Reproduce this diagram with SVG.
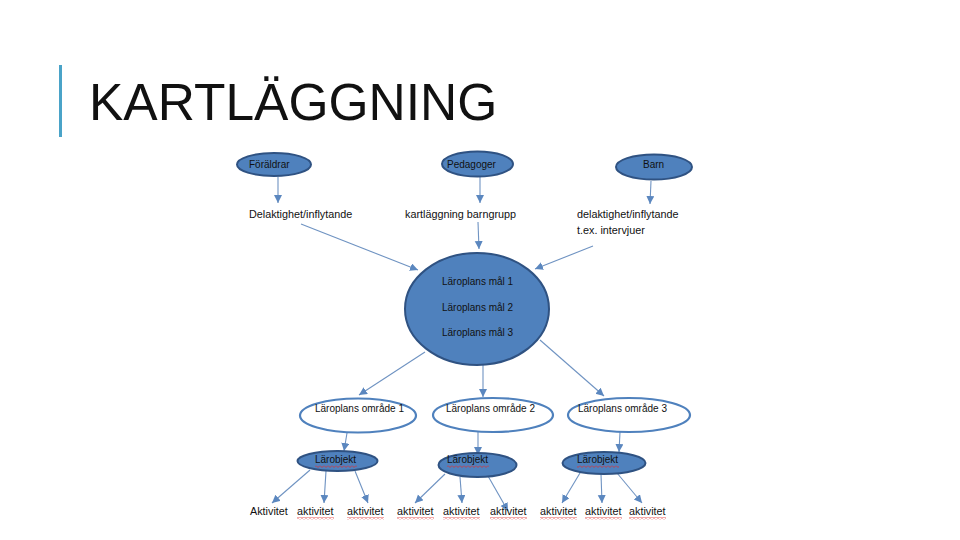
<svg xmlns="http://www.w3.org/2000/svg" width="960" height="540" viewBox="0 0 960 540">
<defs>
<style>
.blue{fill:#4f81bd;stroke:#2f5282;stroke-width:2}
.white{fill:#fff;stroke:#4f81bd;stroke-width:2.2}
.t{font-family:"Liberation Sans",Arial,sans-serif;font-size:10.8px;fill:#111}
.ti{font-family:"Liberation Sans",Arial,sans-serif;font-size:10px;fill:#111}
.c{stroke:#6f93c2;stroke-width:1.1;fill:none;marker-end:url(#ah)}
</style>
<marker id="ah" markerUnits="userSpaceOnUse" markerWidth="9" markerHeight="9" refX="8" refY="4" orient="auto">
<path d="M0,0 L8,4 L0,8 z" fill="#5b87bf"/>
</marker>
<pattern id="wavy" width="4" height="3" patternUnits="userSpaceOnUse">
<polyline points="0,0.5 2,2.5 4,0.5" fill="none" stroke="#e03030" stroke-width="0.8"/>
</pattern>
</defs>
<rect width="960" height="540" fill="#fff"/>
<rect x="59" y="65" width="3" height="72" fill="#4aa3c8"/>
<text x="89" y="120" font-family="'Liberation Sans',Arial,sans-serif" font-size="51.5" fill="#111">KARTLÄGGNING</text>

<g id="connectors">
<line class="c" x1="278" y1="177" x2="278" y2="203"/>
<line class="c" x1="480" y1="177" x2="480" y2="203"/>
<line class="c" x1="651" y1="181" x2="650" y2="204"/>
<line class="c" x1="301" y1="224" x2="418" y2="270"/>
<line class="c" x1="478" y1="222" x2="479" y2="249"/>
<line class="c" x1="593" y1="246" x2="535" y2="269"/>
<line class="c" x1="425" y1="352" x2="359" y2="395"/>
<line class="c" x1="483" y1="365" x2="483" y2="397"/>
<line class="c" x1="540" y1="340" x2="604" y2="396"/>
<line class="c" x1="347" y1="433" x2="344" y2="451"/>
<line class="c" x1="478" y1="432" x2="478" y2="455"/>
<line class="c" x1="620" y1="432" x2="619" y2="452"/>
<line class="c" x1="310" y1="470" x2="272" y2="503"/>
<line class="c" x1="326" y1="471" x2="324" y2="503"/>
<line class="c" x1="355" y1="471" x2="368" y2="503"/>
<line class="c" x1="445" y1="474" x2="415" y2="503"/>
<line class="c" x1="460" y1="477" x2="462" y2="503"/>
<line class="c" x1="488" y1="476" x2="508" y2="511"/>
<line class="c" x1="580" y1="473" x2="562" y2="503"/>
<line class="c" x1="601" y1="474" x2="602" y2="503"/>
<line class="c" x1="617" y1="473" x2="642" y2="503"/>
</g>

<g id="foraldrar"><ellipse class="blue" cx="274" cy="164.5" rx="37" ry="11.5"/><text class="ti" x="249" y="168">Föräldrar</text></g>
<g id="pedagoger"><ellipse class="blue" cx="477.5" cy="164" rx="35.5" ry="12.5"/><text class="ti" x="447" y="168">Pedagoger</text></g>
<g id="barn"><ellipse class="blue" cx="654" cy="167" rx="38" ry="12.5"/><text class="ti" x="643" y="168">Barn</text></g>

<g id="label-delaktighet"><text class="t" x="249" y="218">Delaktighet/inflytande</text></g>
<g id="label-kartlaggning"><text class="t" x="405" y="218">kartläggning barngrupp</text></g>
<g id="label-delaktighet2"><text class="t" x="577" y="218">delaktighet/inflytande</text><text class="t" x="577" y="234">t.ex. intervjuer</text></g>

<g id="mal"><ellipse class="blue" cx="477" cy="309" rx="72" ry="56"/>
<text class="ti" x="442" y="285">Läroplans mål 1</text>
<text class="ti" x="442" y="311">Läroplans mål 2</text>
<text class="ti" x="442" y="336">Läroplans mål 3</text></g>

<g id="omrade1"><ellipse class="white" cx="358" cy="415.5" rx="58" ry="17"/><text class="ti" x="315" y="412">Läroplans område 1</text></g>
<g id="omrade2"><ellipse class="white" cx="493" cy="415" rx="60" ry="17"/><text class="ti" x="446" y="412">Läroplans område 2</text></g>
<g id="omrade3"><ellipse class="white" cx="629" cy="415" rx="61" ry="17"/><text class="ti" x="578" y="412">Läroplans område 3</text></g>

<g id="larobjekt1"><ellipse class="blue" cx="337.5" cy="461" rx="40" ry="10"/><text class="ti" x="315" y="463">Lärobjekt</text><rect x="315" y="465" width="42" height="3" fill="url(#wavy)"/></g>
<g id="larobjekt2"><ellipse class="blue" cx="477.5" cy="465" rx="39" ry="12"/><text class="ti" x="447" y="463">Lärobjekt</text><rect x="447" y="465" width="42" height="3" fill="url(#wavy)"/></g>
<g id="larobjekt3"><ellipse class="blue" cx="604" cy="463" rx="41.5" ry="11"/><text class="ti" x="577" y="463">Lärobjekt</text><rect x="577" y="465" width="42" height="3" fill="url(#wavy)"/></g>

<g id="aktiviteter">
<text class="t" x="250" y="515">Aktivitet</text>
<text class="t" x="297" y="515">aktivitet</text><rect x="297" y="517" width="37" height="3" fill="url(#wavy)"/>
<text class="t" x="347" y="515">aktivitet</text><rect x="347" y="517" width="37" height="3" fill="url(#wavy)"/>
<text class="t" x="397" y="515">aktivitet</text><rect x="397" y="517" width="37" height="3" fill="url(#wavy)"/>
<text class="t" x="443" y="515">aktivitet</text><rect x="443" y="517" width="37" height="3" fill="url(#wavy)"/>
<text class="t" x="490" y="515">aktivitet</text><rect x="490" y="517" width="37" height="3" fill="url(#wavy)"/>
<text class="t" x="540" y="515">aktivitet</text><rect x="540" y="517" width="37" height="3" fill="url(#wavy)"/>
<text class="t" x="585" y="515">aktivitet</text><rect x="585" y="517" width="37" height="3" fill="url(#wavy)"/>
<text class="t" x="629" y="515">aktivitet</text><rect x="629" y="517" width="37" height="3" fill="url(#wavy)"/>
</g>
</svg>
